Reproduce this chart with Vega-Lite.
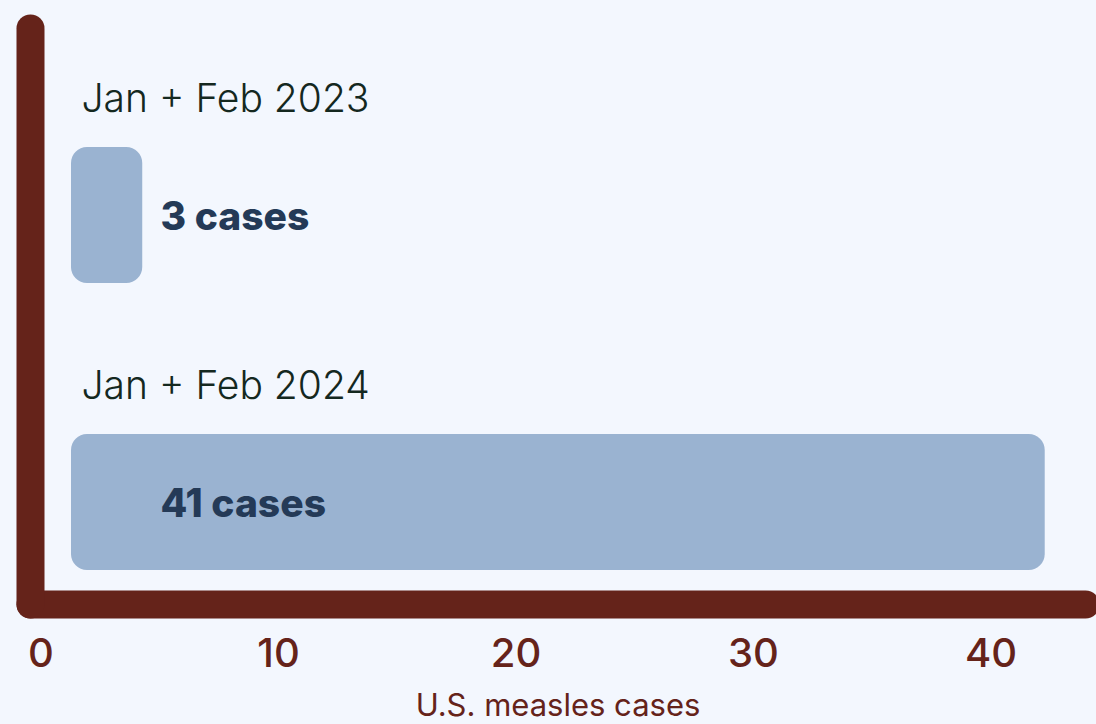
{
  "$schema": "https://vega.github.io/schema/vega-lite/v6.json",
  "width": 1055,
  "height": 576,
  "autosize": {"type": "none"},
  "padding": {"left": 30, "top": 28, "right": 11, "bottom": 120},
  "background": "#f3f7fe",
  "config": {
    "view": {"stroke": null},
    "font": "Inter"
  },
  "data": {
    "values": [
      {"period": "Jan + Feb 2023", "cases": 3, "label": "3 cases"},
      {"period": "Jan + Feb 2024", "cases": 41, "label": "41 cases"}
    ]
  },
  "layer": [
    {
      "mark": {"type": "bar", "color": "#9ab3d1", "cornerRadius": 16, "xOffset": 30.5, "x2Offset": 30.5},
      "encoding": {
        "x": {
          "field": "cases",
          "type": "quantitative",
          "scale": {"domain": [-0.442, 43.98], "nice": false, "zero": false},
          "axis": {
            "values": [0, 10, 20, 30, 40],
            "grid": false,
            "ticks": false,
            "domainColor": "#65231a",
            "domainWidth": 28,
            "domainCap": "round",
            "labelColor": "#65231a",
            "labelFontSize": 40,
            "labelFontWeight": 500,
            "labelFont": "Inter",
            "labelPadding": 30,
            "labelFlush": false,
            "title": "U.S. measles cases",
            "titleColor": "#65231a",
            "titleFontSize": 31,
            "titleFontWeight": 400,
            "titleFont": "Inter",
            "titlePadding": 17
          }
        },
        "x2": {"datum": 0},
        "y": {
          "field": "period",
          "type": "nominal",
          "sort": ["Jan + Feb 2023", "Jan + Feb 2024"],
          "scale": {"paddingInner": 0.526, "paddingOuter": 0.2665, "align": 0.778},
          "axis": {
            "labels": false,
            "ticks": false,
            "title": null,
            "domainColor": "#65231a",
            "domainWidth": 28,
            "domainCap": "round"
          }
        }
      }
    },
    {
      "mark": {"type": "text", "align": "left", "baseline": "alphabetic", "dx": 41, "dy": -103, "fontSize": 39, "fontWeight": 300, "color": "#14281f"},
      "encoding": {
        "x": {"datum": 0},
        "y": {"field": "period", "type": "nominal", "sort": ["Jan + Feb 2023", "Jan + Feb 2024"]},
        "text": {"field": "period"}
      }
    },
    {
      "mark": {"type": "text", "align": "left", "baseline": "alphabetic", "dx": 120, "dy": 15, "fontSize": 39, "fontWeight": 800, "color": "#243a57"},
      "encoding": {
        "x": {"datum": 0},
        "y": {"field": "period", "type": "nominal", "sort": ["Jan + Feb 2023", "Jan + Feb 2024"]},
        "text": {"field": "label"}
      }
    }
  ]
}
